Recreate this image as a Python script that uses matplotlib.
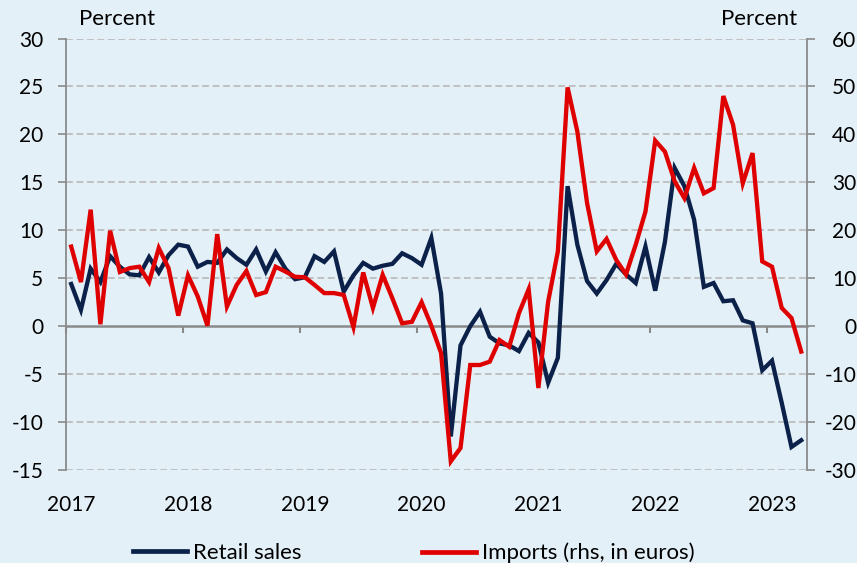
import numpy as np
import pandas as pd
import matplotlib
matplotlib.use("Agg")
import matplotlib.pyplot as plt

# ---- data ----
months = pd.date_range("2017-01-01", "2023-04-01", freq="MS")
retail_sales = [
    4.4, 1.7, 6.0, 4.6, 7.3, 6.2, 5.4, 5.3, 7.2, 5.6, 7.4, 8.5,
    8.3, 6.2, 6.7, 6.6, 8.0, 7.1, 6.4, 8.0, 5.7, 7.7, 6.0, 4.9,
    5.1, 7.3, 6.7, 7.8, 3.6, 5.3, 6.6, 6.0, 6.3, 6.5, 7.6, 7.1,
    6.4, 9.2, 3.4, -11.5, -2.0, 0.0, 1.5, -1.1, -1.8, -2.0, -2.6, -0.7,
    -1.7, -5.9, -3.3, 14.6, 8.5, 4.7, 3.4, 4.8, 6.5, 5.4, 4.5, 8.3,
    3.7, 8.8, 16.5, 14.6, 11.1, 4.1, 4.5, 2.6, 2.7, 0.6, 0.3, -4.6,
    -3.6, -8.0, -12.6, -11.9,
]
imports_rhs = [
    16.6, 9.2, 24.3, 0.4, 19.9, 11.3, 12.1, 12.4, 9.2, 16.3, 12.1, 2.2,
    10.6, 6.2, 0.1, 19.2, 4.1, 8.6, 11.5, 6.5, 7.1, 12.4, 11.4, 10.3,
    10.2, 8.6, 6.9, 6.9, 6.5, -0.2, 11.2, 3.8, 10.7, 5.8, 0.6, 0.9,
    5.0, 0.1, -5.6, -28.2, -25.4, -8.1, -8.1, -7.4, -2.9, -4.3, 2.7, 7.7,
    -12.9, 5.1, 15.6, 49.8, 40.6, 25.7, 15.6, 18.2, 13.8, 10.8, 17.0, 23.9,
    38.7, 36.4, 30.2, 26.7, 33.0, 27.7, 28.8, 48.0, 42.0, 29.8, 36.1, 13.5,
    12.4, 3.8, 1.7, -5.3,
]
left_ticks = [-15, -10, -5, 0, 5, 10, 15, 20, 25, 30]
right_ticks = [-30, -20, -10, 0, 10, 20, 30, 40, 50, 60]
series_names = ["Retail sales", "Imports (rhs, in euros)"]
unit_label = "Percent"

# ---- style ----
BG = "#E4F0F7"
NAVY = "#0B2149"
RED = "#DF0000"
GRID = "#BDBDBD"
AXC = "#8A8A8A"
FS = 15
FS_TXT = 16
plt.rcParams["font.family"] = ["Lato", "DejaVu Sans"]

x = np.arange(len(months))
year_pos = [i for i, m in enumerate(months) if m.month == 1]
year_lab = [str(months[i].year) for i in year_pos]
bounds = [p - 0.5 for p in year_pos]

fig = plt.figure(figsize=(8.57, 5.63), dpi=100, facecolor=BG)
ax = fig.add_axes([0.0774, 0.1652, 0.8643, 0.7664])
ax.set_facecolor(BG)
ax2 = ax.twinx()
ax2.patch.set_visible(False)

ax.plot(x, retail_sales, color=NAVY, lw=3.1, solid_joinstyle="miter", zorder=3)
ax2.plot(x, imports_rhs, color=RED, lw=3.1, solid_joinstyle="miter", zorder=3)

ax.set_xlim(-0.5, 75.6)
ax.set_ylim(left_ticks[0], left_ticks[-1])
ax2.set_ylim(right_ticks[0], right_ticks[-1])

for s in ["top", "bottom", "right"]:
    ax.spines[s].set_visible(False)
for s in ["top", "bottom", "left"]:
    ax2.spines[s].set_visible(False)
ax.spines["left"].set_color(AXC)
ax.spines["left"].set_linewidth(1.3)
ax2.spines["right"].set_color(AXC)
ax2.spines["right"].set_linewidth(1.3)

ax.set_yticks(left_ticks)
ax.set_yticklabels([str(t) for t in left_ticks])
ax2.set_yticks(right_ticks)
ax2.set_yticklabels([str(t) for t in right_ticks], ha="right")
ax.tick_params(axis="y", direction="out", length=5.5, width=1.2, color=AXC,
               pad=11, labelsize=FS, labelcolor="black")
ax2.tick_params(axis="y", direction="out", length=5.5, width=1.2, color=AXC,
                pad=30, labelsize=FS, labelcolor="black")

ax.set_xticks(year_pos)
ax.set_xticklabels(year_lab)
ax.tick_params(axis="x", length=0, pad=18, labelsize=FS, labelcolor="black")
ax2.tick_params(axis="x", length=0, labelbottom=False)

ax.yaxis.grid(True, color=GRID, lw=1.3, linestyle=(0, (3.8, 2.0)))
for t, gl in zip(left_ticks, ax.get_ygridlines()):
    if t == 0:
        gl.set_visible(False)
ax.set_axisbelow(True)

# zero line with year-boundary tick marks
zero_frac = (0 - left_ticks[0]) / (left_ticks[-1] - left_ticks[0])
sec = ax.secondary_xaxis(zero_frac)
sec.set_xticks(bounds)
sec.tick_params(axis="x", direction="out", length=5, width=1.5, color=AXC,
                labelbottom=False, labeltop=False)
sec.spines["bottom"].set_color(AXC)
sec.spines["bottom"].set_linewidth(1.8)
for s in ["top", "left", "right"]:
    sec.spines[s].set_visible(False)

fig.text(79 / 857, (563 - 25) / 563, unit_label, ha="left", va="baseline", fontsize=FS_TXT)
fig.text(797 / 857, (563 - 25) / 563, unit_label, ha="right", va="baseline", fontsize=FS_TXT)

h1 = plt.Line2D([], [], color=NAVY, lw=3.4)
h2 = plt.Line2D([], [], color=RED, lw=3.4)
for h, name, x0 in [(h1, series_names[0], 133), (h2, series_names[1], 422)]:
    fig.legend([h], [name], loc="center left",
               bbox_to_anchor=(x0 / 857, (563 - 553) / 563),
               frameon=False, fontsize=FS_TXT, handlelength=2.45, handletextpad=0.25,
               borderpad=0, borderaxespad=0)

fig.savefig("out.png", dpi=100, facecolor=BG)
